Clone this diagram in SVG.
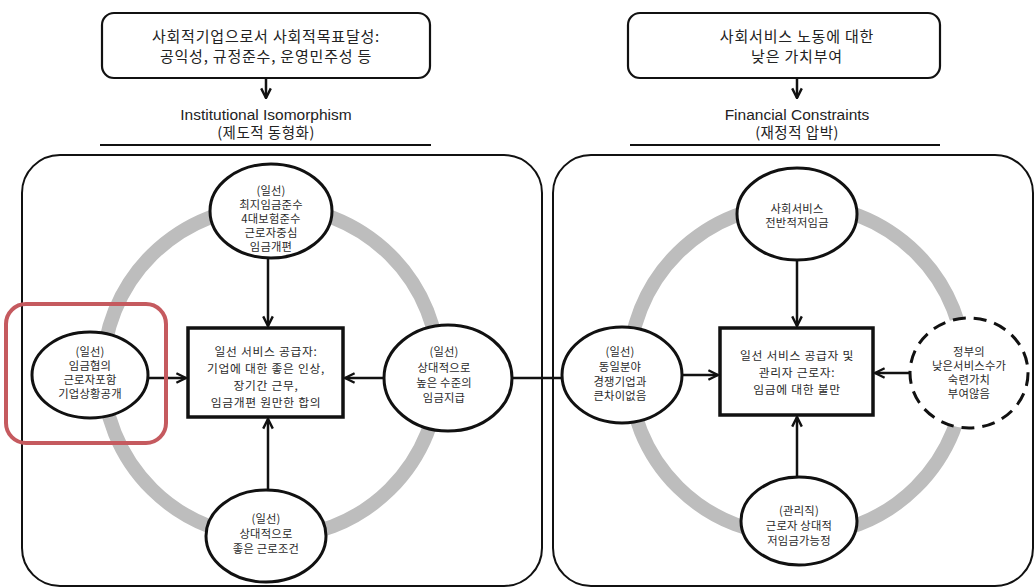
<svg xmlns="http://www.w3.org/2000/svg" width="1034" height="587" viewBox="0 0 1034 587">
<defs>
<marker id="arrB" viewBox="0 0 10 10" refX="9" refY="5" markerWidth="12" markerHeight="12" orient="auto" markerUnits="userSpaceOnUse">
<path d="M1,1 L9,5 L1,9" fill="none" stroke="#111" stroke-width="2"/>
</marker>
</defs>
<style>
text{font-family:"Liberation Sans","Noto Sans CJK KR",sans-serif;fill:#222;text-anchor:middle}
.kr{font-family:"Noto Sans CJK KR",sans-serif}
.top{font-size:15px;letter-spacing:0.8px}
.hd{font-size:15.5px}
.hk{font-size:14.5px;letter-spacing:0.5px}
.nd{font-size:11.3px;fill:#2a2a2a;letter-spacing:0.2px}
.bx{font-size:11.8px;fill:#2a2a2a;letter-spacing:0.7px}
.box{fill:#fff;stroke:#111;stroke-width:2.2}
.panel{fill:#fff;stroke:#111;stroke-width:2}
.ring{fill:none;stroke:#bdbdbd;stroke-width:14}
.node{fill:#fff;stroke:#111;stroke-width:3}
.cbox{fill:#fff;stroke:#111;stroke-width:3.5}
.ln{stroke:#111;stroke-width:2.5;fill:none}
</style>
<rect width="1034" height="587" fill="#fff"/>

<g id="hdr-left">
<rect class="box" x="102" y="13" width="328" height="65" rx="12"/>
<text class="top kr" x="266" y="42">사회적기업으로서 사회적목표달성:</text>
<text class="top kr" x="266" y="62">공익성, 규정준수, 운영민주성 등</text>
<text class="hd" x="266" y="120">Institutional Isomorphism</text>
<text class="hk kr" x="266" y="138">(제도적 동형화)</text>
<line x1="100" y1="145" x2="431" y2="145" stroke="#111" stroke-width="2"/>
</g>
<g id="hdr-right">
<rect class="box" x="628" y="13" width="312" height="65" rx="12"/>
<text class="top kr" x="797" y="42">사회서비스 노동에 대한</text>
<text class="top kr" x="797" y="62">낮은 가치부여</text>
<text class="hd" x="797" y="120">Financial Constraints</text>
<text class="hk kr" x="797" y="138">(재정적 압박)</text>
<line x1="630" y1="145" x2="940" y2="145" stroke="#111" stroke-width="2"/>
</g>

<g id="panel-left"><rect class="panel" x="22" y="155" width="520" height="431" rx="38"/></g>
<g id="panel-right"><rect class="panel" x="553" y="155" width="480" height="431" rx="38"/></g>

<ellipse class="ring" cx="271" cy="372" rx="168" ry="166"/>
<ellipse class="ring" cx="797" cy="370" rx="168" ry="166"/>

<g id="connectors">
<line class="ln" x1="266" y1="78" x2="266" y2="98" marker-end="url(#arrB)"/>
<line class="ln" x1="797" y1="78" x2="797" y2="98" marker-end="url(#arrB)"/>
<line class="ln" x1="268" y1="258" x2="268" y2="326" marker-end="url(#arrB)"/>
<line class="ln" x1="268" y1="490" x2="268" y2="419" marker-end="url(#arrB)"/>
<line class="ln" x1="148" y1="378" x2="186" y2="378" marker-end="url(#arrB)"/>
<line class="ln" x1="384" y1="378" x2="345" y2="378" marker-end="url(#arrB)"/>
<line class="ln" x1="512" y1="378" x2="563" y2="378"/>
<line class="ln" x1="682" y1="375" x2="718" y2="375" marker-end="url(#arrB)"/>
<line class="ln" x1="797" y1="260" x2="797" y2="326" marker-end="url(#arrB)"/>
<line class="ln" x1="797" y1="477" x2="797" y2="417" marker-end="url(#arrB)"/>
<line class="ln" x1="910" y1="373" x2="875" y2="373" marker-end="url(#arrB)"/>
</g>

<g id="l-top">
<ellipse class="node" cx="271" cy="211" rx="61" ry="47"/>
<text class="nd kr" x="271" y="195">(일선)</text>
<text class="nd kr" x="271" y="209">최지임금준수</text>
<text class="nd kr" x="271" y="223">4대보험준수</text>
<text class="nd kr" x="271" y="237">근로자중심</text>
<text class="nd kr" x="271" y="251">임금개편</text>
</g>
<g id="l-center">
<rect class="cbox" x="188" y="328" width="155" height="89"/>
<text class="bx kr" x="266" y="356">일선 서비스 공급자:</text>
<text class="bx kr" x="266" y="373">기업에 대한 좋은 인상,</text>
<text class="bx kr" x="266" y="390">장기간 근무,</text>
<text class="bx kr" x="266" y="407">임금개편 원만한 합의</text>
</g>
<g id="l-left">
<ellipse class="node" cx="90" cy="375" rx="58" ry="43"/>
<text class="nd kr" x="90" y="356">(일선)</text>
<text class="nd kr" x="90" y="370">임금협의</text>
<text class="nd kr" x="90" y="384">근로자포함</text>
<text class="nd kr" x="90" y="398">기업상황공개</text>
</g>
<g id="l-right">
<ellipse class="node" cx="448" cy="378" rx="64" ry="53"/>
<text class="nd kr" x="444" y="356">(일선)</text>
<text class="nd kr" x="444" y="372">상대적으로</text>
<text class="nd kr" x="444" y="387">높은 수준의</text>
<text class="nd kr" x="444" y="402">임금지급</text>
</g>
<g id="l-bottom">
<ellipse class="node" cx="266" cy="536" rx="60" ry="46"/>
<text class="nd kr" x="266" y="523">(일선)</text>
<text class="nd kr" x="266" y="538">상대적으로</text>
<text class="nd kr" x="266" y="553">좋은 근로조건</text>
</g>
<g id="highlight">
<rect x="6" y="304" width="160" height="139" rx="20" fill="none" stroke="#c55a5f" stroke-width="4"/>
</g>

<g id="r-top">
<ellipse class="node" cx="797" cy="214" rx="60" ry="46"/>
<text class="nd kr" x="797" y="213">사회서비스</text>
<text class="nd kr" x="797" y="227">전반적저임금</text>
</g>
<g id="r-center">
<rect class="cbox" x="720" y="328" width="153" height="87"/>
<text class="bx kr" x="797" y="360">일선 서비스 공급자 및</text>
<text class="bx kr" x="797" y="377">관리자 근로자:</text>
<text class="bx kr" x="797" y="394">임금에 대한 불만</text>
</g>
<g id="r-left">
<ellipse class="node" cx="622" cy="375" rx="60" ry="48"/>
<text class="nd kr" x="620" y="356">(일선)</text>
<text class="nd kr" x="620" y="371">동일분야</text>
<text class="nd kr" x="620" y="386">경쟁기업과</text>
<text class="nd kr" x="620" y="400">큰차이없음</text>
</g>
<g id="r-right">
<ellipse cx="969" cy="373" rx="59" ry="55" fill="#fff" stroke="#111" stroke-width="3" stroke-dasharray="13,8"/>
<text class="nd kr" x="969" y="356">정부의</text>
<text class="nd kr" x="969" y="370">낮은서비스수가</text>
<text class="nd kr" x="969" y="384">숙련가치</text>
<text class="nd kr" x="969" y="398">부여않음</text>
</g>
<g id="r-bottom">
<ellipse class="node" cx="799" cy="521" rx="58" ry="44"/>
<text class="nd kr" x="799" y="515">(관리직)</text>
<text class="nd kr" x="799" y="530">근로자 상대적</text>
<text class="nd kr" x="799" y="545">저임금가능정</text>
</g>
</svg>
